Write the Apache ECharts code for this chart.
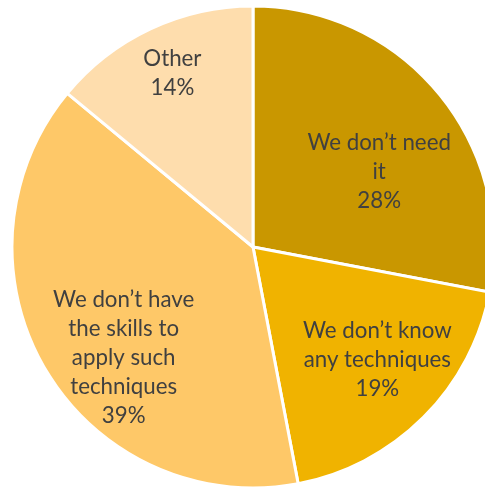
<!DOCTYPE html>
<html>
<head>
<meta charset="utf-8">
<script src="https://cdn.jsdelivr.net/npm/echarts@6/dist/echarts.min.js"></script>
<style>
html,body{margin:0;padding:0;background:#fff;}
#chart{width:485px;height:488px;}
</style>
</head>
<body>
<div id="chart"></div>
<script>
var categories = ["We don\u2019t need\nit", "We don\u2019t know\nany techniques", "We don\u2019t have\nthe skills to\napply such\ntechniques", "Other"];
var values = [28, 19, 39, 14];
var colors = ["#C99700", "#F0B300", "#FEC868", "#FEDDAD"];
var labelShift = [[31, 4], [37, 25], [-23, 48], [-28, -62]];

var chart = echarts.init(document.getElementById('chart'), null, {renderer: 'canvas'});
chart.setOption({
  animation: false,
  series: [{
    type: 'pie',
    center: [253, 247],
    radius: 241,
    startAngle: 90,
    clockwise: true,
    avoidLabelOverlap: false,
    silent: true,
    data: categories.map(function (c, i) {
      return {name: c, value: values[i], itemStyle: {color: colors[i]}};
    }),
    itemStyle: {borderColor: '#ffffff', borderWidth: 3},
    label: {
      show: true,
      position: 'inside',
      formatter: '{b}\n{c}%',
      color: '#404040',
      fontFamily: 'Lato',
      fontSize: 22.3,
      lineHeight: 29,
      align: 'center'
    },
    labelLine: {show: false},
    labelLayout: function (p) {
      var s = labelShift[p.dataIndex];
      return {dx: s[0], dy: s[1]};
    }
  }]
});
</script>
</body>
</html>
